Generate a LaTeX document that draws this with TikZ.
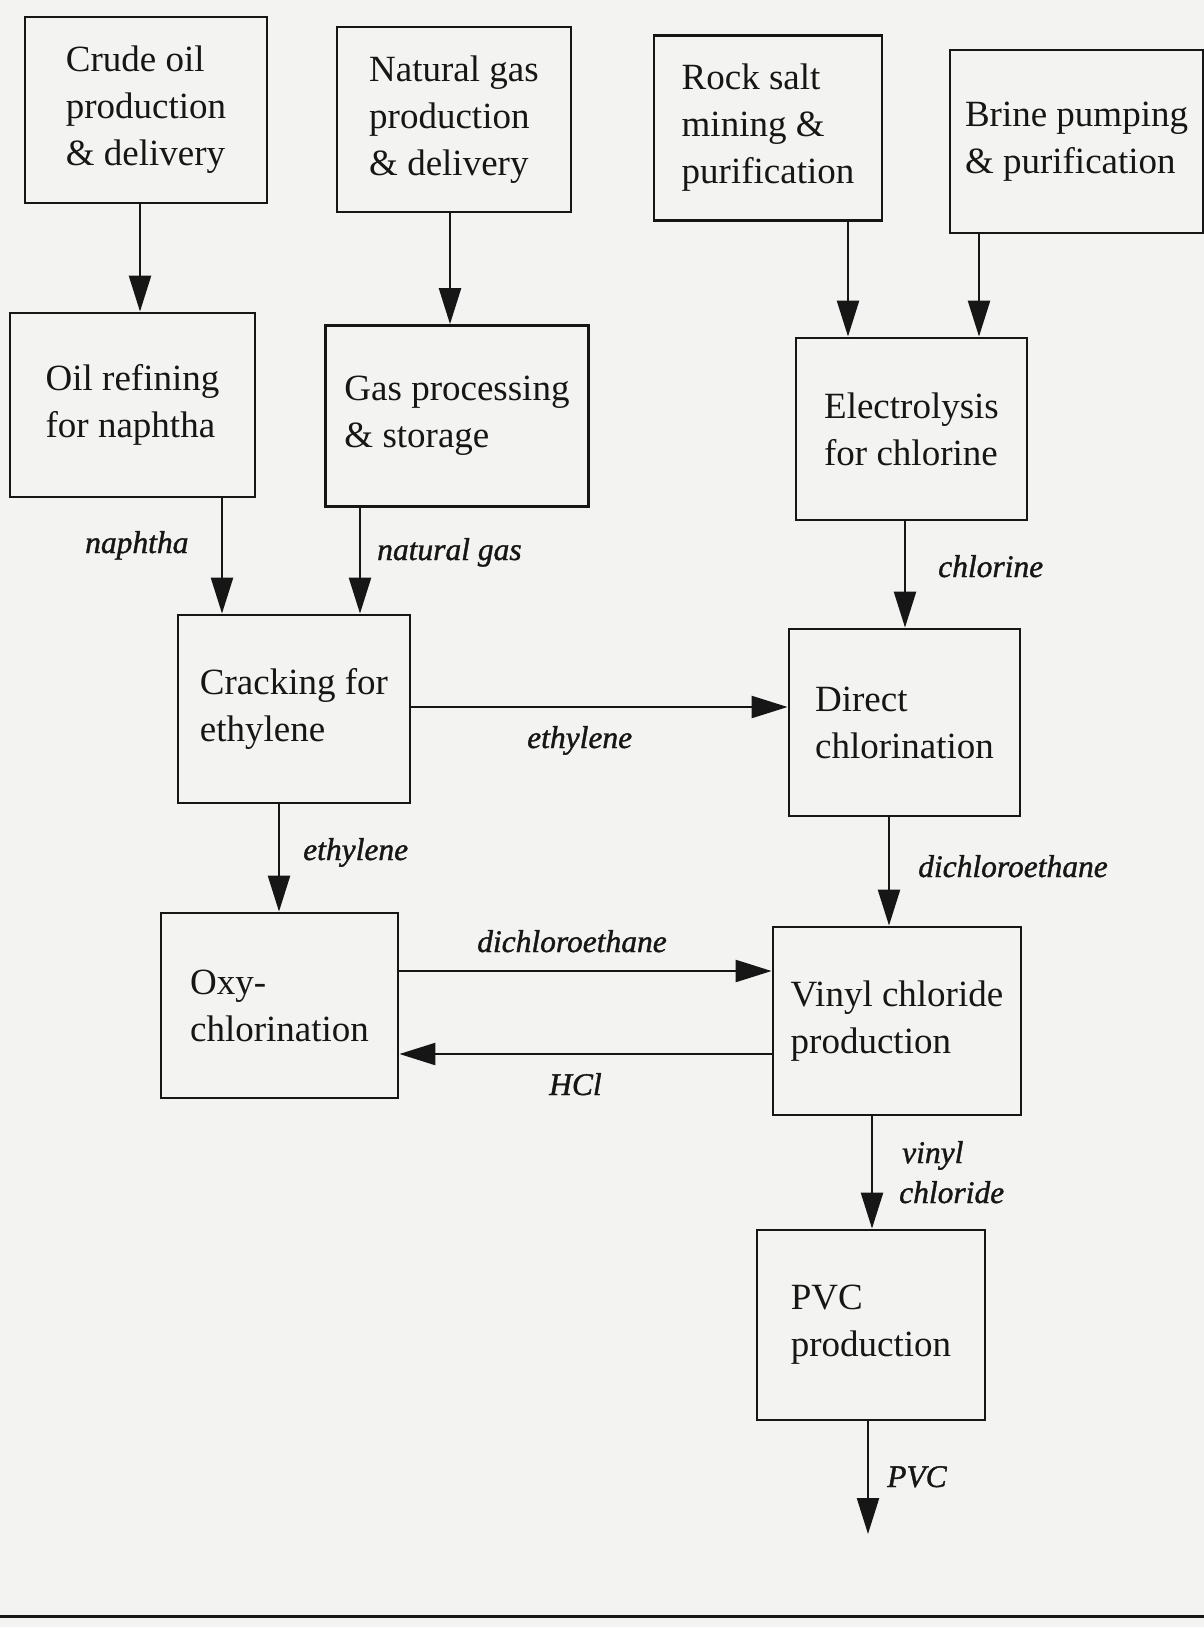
\documentclass[tikz,border=0pt]{standalone}
\usepackage{fontspec}
\setmainfont{Liberation Serif}
\newfontfamily\streamfont[FakeBold=1.2]{Liberation Serif}
\usetikzlibrary{arrows.meta}
\definecolor{paper}{RGB}{243,243,241}
\definecolor{ink}{RGB}{22,22,22}
\begin{document}
\begin{tikzpicture}[x=1pt,y=-1pt,
  proc/.style={draw=ink, line width=2.8pt, align=left, text=ink,
    font=\fontsize{37}{47}\selectfont, inner sep=0pt},
  flow/.style={draw=ink, line width=2.4pt, -{Triangle[length=36pt,width=22pt]}},
  lab/.style={text=ink, font=\fontsize{31.5}{40}\streamfont\itshape, inner sep=0pt,
    align=left, anchor=base west}]
% page
\fill[paper] (0,0) rectangle (1204,1627);
\useasboundingbox (0,0) rectangle (1204,1627);

% process boxes
\node[proc, minimum width=242pt, minimum height=186pt] (crude)   at (146,110)    {Crude oil\\production\\\& delivery};
\node[proc, minimum width=234pt, minimum height=185pt] (natural) at (454,119.5)  {Natural gas\\production\\\& delivery};
\node[proc, minimum width=228pt, minimum height=185pt] (rock)    at (768,128)    {Rock salt\\mining \&\\purification};
\node[proc, minimum width=253pt, minimum height=183pt] (brine)   at (1076.5,141.5) {Brine pumping\\\& purification};
\node[proc, minimum width=245pt, minimum height=184pt] (oil)     at (132.5,405)  {Oil refining\\for naphtha};
\node[proc, minimum width=263pt, minimum height=181pt] (gas)     at (457,416)    {Gas processing\\\& storage};
\node[proc, minimum width=231pt, minimum height=182pt] (elec)    at (911.5,429)  {Electrolysis\\for chlorine};
\node[proc, minimum width=232pt, minimum height=188pt] (crack)   at (294,709)    {Cracking for\\ethylene};
\node[proc, minimum width=231pt, minimum height=187pt] (direct)  at (904.5,722.5) {Direct\\chlorination};
\node[proc, minimum width=237pt, minimum height=185pt] (oxy)     at (279.5,1005.5) {Oxy-\\chlorination};
\node[proc, minimum width=248pt, minimum height=188pt] (vinyl)   at (897,1021)   {Vinyl chloride\\production};
\node[proc, minimum width=228pt, minimum height=190pt] (pvc)     at (871,1325)   {PVC\\production};

% lanes for the connectors
\coordinate (l1) at (140,0);
\coordinate (l2) at (450,0);
\coordinate (l3) at (848,0);
\coordinate (l4) at (979,0);
\coordinate (l5) at (222,0);
\coordinate (l6) at (360,0);
\coordinate (l7) at (905,0);
\coordinate (l8) at (279,0);
\coordinate (l9) at (889,0);
\coordinate (l10) at (872,0);
\coordinate (l11) at (868,0);
\coordinate (r1) at (0,707);
\coordinate (r2) at (0,971);
\coordinate (r3) at (0,1054);
\coordinate (out) at (868,1534);

% connectors
\draw[flow] (crude.south -| l1) -- (oil.north -| l1);
\draw[flow] (natural.south -| l2) -- (gas.north -| l2);
\draw[flow] (rock.south -| l3) -- (elec.north -| l3);
\draw[flow] (brine.south -| l4) -- (elec.north -| l4);
\draw[flow] (oil.south -| l5) -- (crack.north -| l5);
\draw[flow] (gas.south -| l6) -- (crack.north -| l6);
\draw[flow] (elec.south -| l7) -- (direct.north -| l7);
\draw[flow] (crack.east |- r1) -- (direct.west |- r1);
\draw[flow] (crack.south -| l8) -- (oxy.north -| l8);
\draw[flow] (direct.south -| l9) -- (vinyl.north -| l9);
\draw[flow] (oxy.east |- r2) -- (vinyl.west |- r2);
\draw[flow] (vinyl.west |- r3) -- (oxy.east |- r3);
\draw[flow] (vinyl.south -| l10) -- (pvc.north -| l10);
\draw[flow] (pvc.south -| l11) -- (out);

% stream labels
\node[lab] (tnaph)  at (85,553)   {naphtha};
\node[lab] (tgas)   at (377,560)  {natural gas};
\node[lab] (tcl)    at (938,577)  {chlorine};
\node[lab] (teth1)  at (527,748)  {ethylene};
\node[lab] (teth2)  at (303,860)  {ethylene};
\node[lab] (tdce1)  at (918,877)  {dichloroethane};
\node[lab] (tdce2)  at (477,952)  {dichloroethane};
\node[lab] (thcl)   at (549,1095) {HCl};
\node[lab] (tvcm1)  at (902,1163) {vinyl};
\node[lab] (tvcm2)  at (899,1203) {chloride};
\node[lab] (tpvc)   at (887,1487) {PVC};

% rule at the foot of the page
\draw[ink, line width=3pt] (0,1616) -- (1204,1616);
\end{tikzpicture}
\end{document}
